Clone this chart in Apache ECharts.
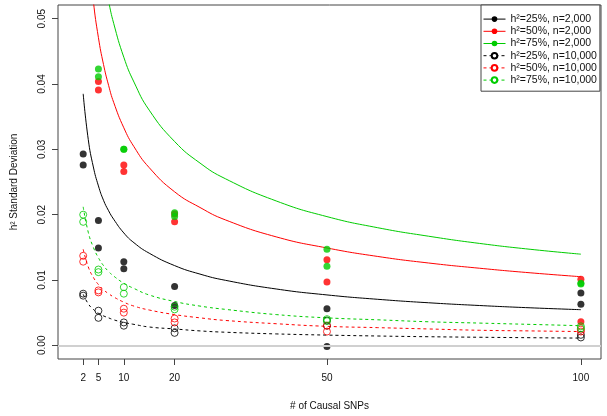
<!DOCTYPE html>
<html>
<head>
<meta charset="utf-8">
<script src="https://cdn.jsdelivr.net/npm/echarts@6/dist/echarts.min.js"></script>
<style>html,body{margin:0;padding:0;background:#fff;}#c{width:607px;height:416px;}</style>
</head>
<body>
<div id="c"></div>
<script>
// ---- data ----
var xTicks = [2, 5, 10, 20, 50, 100];
var yTicks = [0, 0.01, 0.02, 0.03, 0.04, 0.05];
var legendNames = ['h²=25%, n=2,000', 'h²=50%, n=2,000', 'h²=75%, n=2,000',
                   'h²=25%, n=10,000', 'h²=50%, n=10,000', 'h²=75%, n=10,000'];

// simulated points (two replicates) at xTicks
var pts25_2k_a  = [0.0293, 0.0191, 0.0128, 0.0090, 0.0056, 0.0080];
var pts25_2k_b  = [0.0276, 0.0149, 0.0117, 0.0061, -0.0002, 0.0063];
var pts50_2k_a  = [null, 0.0404, 0.0276, 0.0201, 0.0131, 0.0101];
var pts50_2k_b  = [null, 0.0391, 0.0266, 0.0189, 0.0097, 0.0036];
var pts75_2k_a  = [null, 0.0423, 0.0300, 0.0203, 0.0147, 0.0095];
var pts75_2k_b  = [null, 0.0411, 0.0300, 0.0197, 0.0121, 0.0094];
var pts25_10k_a = [0.0079, 0.0053, 0.0035, 0.0026, 0.0038, 0.0016];
var pts25_10k_b = [0.0076, 0.0042, 0.0030, 0.0019, 0.0030, 0.0012];
var pts50_10k_a = [0.0137, 0.0084, 0.0056, 0.0041, 0.0030, 0.0024];
var pts50_10k_b = [0.0128, 0.0081, 0.0050, 0.0035, 0.0021, 0.0021];
var pts75_10k_a = [0.0200, 0.0116, 0.0089, 0.0059, 0.0040, 0.0029];
var pts75_10k_b = [0.0189, 0.0112, 0.0079, 0.0055, 0.0037, 0.0026];

// theoretical curves, read at curveX
var curveX      = [2, 3, 4, 5, 6, 7, 8, 10, 12, 15, 20, 25, 30, 40, 50, 60, 70, 80, 90, 100];
var curve25_2k  = [0.0385, 0.0315, 0.0273, 0.0244, 0.0222, 0.0206, 0.0193, 0.0172, 0.0157, 0.0141, 0.0122, 0.0109, 0.00995, 0.00862, 0.00771, 0.00704, 0.00651, 0.00609, 0.00574, 0.00545];
var curve50_2k  = [null, 0.0608, 0.0527, 0.0471, 0.0430, 0.0398, 0.0372, 0.0333, 0.0304, 0.0272, 0.0235, 0.0211, 0.0192, 0.0166, 0.0149, 0.0136, 0.0126, 0.0118, 0.0111, 0.0105];
var curve75_2k  = [null, null, null, null, 0.0569, 0.0527, 0.0493, 0.0441, 0.0403, 0.0360, 0.0312, 0.0279, 0.0255, 0.0221, 0.0197, 0.0180, 0.0167, 0.0156, 0.0147, 0.01395];
var curve25_10k = [0.0078, 0.00635, 0.0055, 0.0049, 0.0045, 0.0042, 0.0039, 0.0035, 0.0032, 0.0028, 0.0025, 0.0022, 0.0020, 0.00174, 0.00156, 0.00142, 0.00131, 0.00123, 0.00116, 0.0011];
var curve50_10k = [0.0147, 0.0120, 0.0104, 0.0093, 0.0085, 0.0079, 0.0074, 0.0066, 0.0060, 0.0054, 0.0047, 0.0042, 0.0038, 0.0033, 0.0029, 0.0027, 0.0025, 0.0023, 0.0022, 0.0021];
var curve75_10k = [0.0212, 0.0173, 0.0150, 0.0134, 0.0122, 0.0113, 0.0106, 0.0095, 0.0087, 0.0077, 0.0067, 0.0060, 0.0055, 0.0047, 0.0042, 0.0039, 0.0036, 0.0034, 0.0032, 0.0030];

// ---- build ----
var FONT = 'Liberation Sans, Arial, Helvetica, sans-serif';
var BLACK = '#000000', RED = '#ff0000', GREEN = '#00cc00';
var groups = [
  {name: legendNames[0], color: BLACK, dashed: false, curve: curve25_2k,  a: pts25_2k_a,  b: pts25_2k_b},
  {name: legendNames[1], color: RED,   dashed: false, curve: curve50_2k,  a: pts50_2k_a,  b: pts50_2k_b},
  {name: legendNames[2], color: GREEN, dashed: false, curve: curve75_2k,  a: pts75_2k_a,  b: pts75_2k_b},
  {name: legendNames[3], color: BLACK, dashed: true,  curve: curve25_10k, a: pts25_10k_a, b: pts25_10k_b},
  {name: legendNames[4], color: RED,   dashed: true,  curve: curve50_10k, a: pts50_10k_a, b: pts50_10k_b},
  {name: legendNames[5], color: GREEN, dashed: true,  curve: curve75_10k, a: pts75_10k_a, b: pts75_10k_b}
];

function pairs(xs, ys) {
  var out = [];
  for (var i = 0; i < xs.length; i++) out.push([xs[i], ys[i]]);
  return out;
}
function ptPairs(a, b) {
  var out = [];
  for (var i = 0; i < xTicks.length; i++) {
    if (a[i] != null) out.push([xTicks[i], a[i]]);
    if (b[i] != null) out.push([xTicks[i], b[i]]);
  }
  return out;
}

var series = [];
// zero reference line
series.push({
  type: 'line', data: [], silent: true,
  markLine: {
    silent: true, symbol: 'none', label: {show: false},
    lineStyle: {color: '#d0d0d0', width: 2, type: 'solid'},
    data: [{yAxis: 0}]
  }, z: 1
});
groups.forEach(function (g) {
  series.push({
    name: g.name, type: 'line', data: pairs(curveX, g.curve),
    showSymbol: false, symbol: g.dashed ? 'emptyCircle' : 'circle',
    smooth: 0.5, connectNulls: false, clip: true,
    itemStyle: {color: g.color},
    lineStyle: {color: g.color, width: 1, type: g.dashed ? [3, 3] : 'solid'},
    z: 2, silent: true
  });
});
groups.forEach(function (g) {
  series.push({
    name: g.name, type: 'scatter', data: ptPairs(g.a, g.b),
    symbol: 'circle', symbolSize: 7, silent: true,
    itemStyle: g.dashed
      ? {color: 'rgba(255,255,255,0)', borderColor: g.color, borderWidth: 1}
      : {color: g.color, borderWidth: 0},
    z: 3
  });
});

var chart = echarts.init(document.getElementById('c'), null, {renderer: 'canvas'});
chart.setOption({
  animation: false,
  backgroundColor: '#ffffff',
  textStyle: {fontFamily: FONT},
  grid: {left: 58, right: 6, top: 5, bottom: 53, show: true, borderColor: '#444', borderWidth: 1, backgroundColor: 'transparent'},
  legend: {
    orient: 'vertical', left: 481, top: 5,
    data: legendNames, selectedMode: false,
    itemWidth: 22, itemHeight: 7, itemGap: 0,
    padding: [8, 3, 5, 2],
    lineStyle: {width: 1},
    borderColor: '#444', borderWidth: 1, backgroundColor: '#fff',
    textStyle: {fontFamily: FONT, fontSize: 10.5, color: '#111', lineHeight: 12.2}
  },
  xAxis: {
    type: 'value', min: -2.96, max: 103.96,
    name: '# of Causal SNPs', nameLocation: 'middle', nameGap: 42,
    nameTextStyle: {fontFamily: FONT, fontSize: 10, color: '#111'},
    axisLine: {show: false, onZero: false},
    axisTick: {show: true, customValues: xTicks, length: 6, lineStyle: {color: '#444'}},
    axisLabel: {customValues: xTicks, margin: 14, fontFamily: FONT, fontSize: 10, color: '#111'},
    splitLine: {show: false}
  },
  yAxis: {
    type: 'value', min: -0.0021, max: 0.0521,
    name: 'h² Standard Deviation', nameLocation: 'middle', nameGap: 39, nameRotate: 90,
    nameTextStyle: {fontFamily: FONT, fontSize: 10, color: '#111'},
    axisLine: {show: false, onZero: false},
    axisTick: {show: true, customValues: yTicks, length: 6, lineStyle: {color: '#444'}},
    axisLabel: {customValues: yTicks, rotate: 90, margin: 11, fontFamily: FONT, fontSize: 10, color: '#111',
      formatter: function (v) { return v.toFixed(2); }},
    splitLine: {show: false}
  },
  series: series
});
</script>
</body>
</html>
